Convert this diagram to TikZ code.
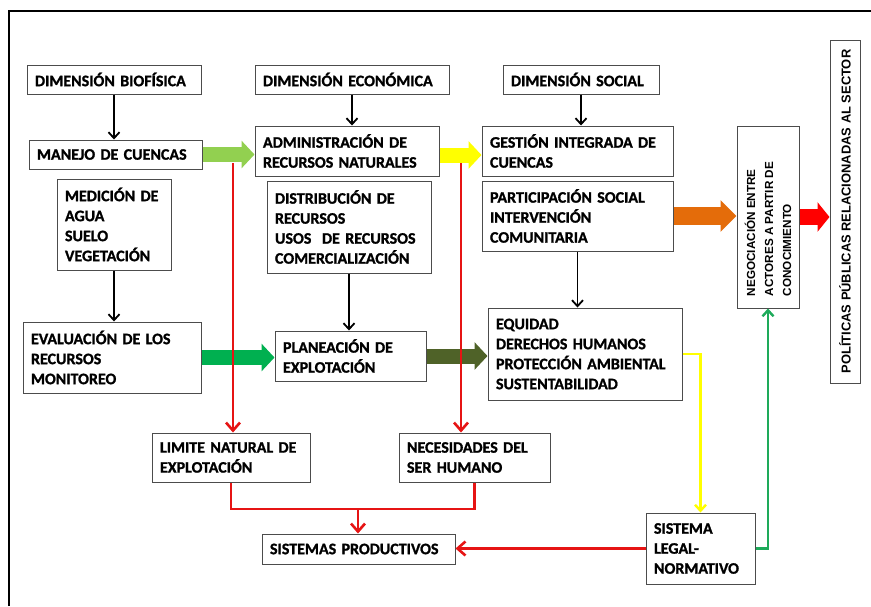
\documentclass[tikz,border=0pt]{standalone}
\usepackage{fontspec}
\setmainfont{Carlito}[BoldFont={Carlito Bold}, BoldFeatures={FakeBold=1.2}]
\newfontfamily\vertfont{Liberation Sans}[BoldFont={Liberation Sans Bold}]
\usepackage{tikz}
\usetikzlibrary{arrows.meta,calc}
\definecolor{lgreen}{RGB}{146,208,80}
\definecolor{mgreen}{RGB}{0,176,80}
\definecolor{olive}{RGB}{79,98,40}
\definecolor{yel}{RGB}{255,255,0}
\definecolor{orng}{RGB}{228,108,10}
\definecolor{rd}{RGB}{230,20,20}
\definecolor{lnk}{RGB}{30,170,90}
\newcommand\boxfont{\bfseries\fontsize{16}{20}\selectfont\spaceskip=3pt plus 1pt\relax}
\tikzset{
  box/.style  = {draw=black!70, line width=1pt, rectangle, align=left,
                 inner xsep=8pt, inner ysep=3pt},
  sig/.style  = {-{Straight Barb[length=6pt,width=11pt]}, line width=1.8pt},
  rsig/.style = {-{Straight Barb[length=8pt,width=14pt]}, line width=2.6pt, rd},
  fat/.style  = {line width=15pt, -{Triangle[length=13pt,width=27pt]}},
}

\begin{document}
\begin{tikzpicture}[x=1pt, y=-1pt, font=\boxfont]
\useasboundingbox (0,0) rectangle (871,606);
\draw[line width=2pt] (9,606) -- (9,11) -- (871,11);
% columns of dimensions
\node[box, text width=158pt, minimum height=29pt] (bf) at (114,79.5) {DIMENSIÓN BIOFÍSICA};
\node[box, text width=178pt, minimum height=29pt] (ec) at (352,79.5) {DIMENSIÓN ECONÓMICA};
\node[box, text width=140pt, minimum height=29pt] (so) at (581,79.5) {DIMENSIÓN SOCIAL};
\node[box, text width=157pt, minimum height=29pt] (mc) at (115.5,154.5) {MANEJO DE CUENCAS};
\node[box, text width=168pt, minimum height=50pt] (ar) at (347,151)
  {ADMINISTRACIÓN DE\\RECURSOS NATURALES};
\node[box, text width=175pt, minimum height=50pt] (gi) at (577.5,151)
  {GESTIÓN INTEGRADA DE\\CUENCAS};
\node[box, text width=98pt, minimum height=91pt] (md) at (114,224.5)
  {MEDICIÓN DE\\AGUA\\SUELO\\VEGETACIÓN};
\node[box, text width=148pt, minimum height=92pt] (dr) at (349,227)
  {DISTRIBUCIÓN DE\\RECURSOS\\USOS\ \ DE RECURSOS\\COMERCIALIZACIÓN};
\node[box, text width=175pt, minimum height=70pt] (ps) at (577.5,216)
  {PARTICIPACIÓN SOCIAL\\INTERVENCIÓN\\COMUNITARIA};
\node[box, text width=162pt, minimum height=71pt] (ev) at (112,357.5)
  {EVALUACIÓN DE LOS\\RECURSOS\\MONITOREO};
\node[box, text width=135pt, minimum height=50pt] (pe) at (350.5,356)
  {PLANEACIÓN DE\\EXPLOTACIÓN};
\node[box, text width=178pt, minimum height=92pt] (eq) at (585,354)
  {EQUIDAD\\DERECHOS HUMANOS\\PROTECCIÓN AMBIENTAL\\SUSTENTABILIDAD};
\node[box, text width=142pt, minimum height=49pt] (ln) at (231,457.5)
  {LIMITE NATURAL DE\\EXPLOTACIÓN};
\node[box, text width=135pt, minimum height=49pt] (nh) at (474.5,457.5)
  {NECESIDADES DEL\\SER HUMANO};
\node[box, text width=177pt, minimum height=30pt] (sp) at (358.5,549) {SISTEMAS PRODUCTIVOS};
\node[box, text width=93pt, minimum height=71pt] (sl) at (700.5,548.5)
  {SISTEMA\\LEGAL-\\NORMATIVO};
% vertical boxes
\node[box, inner sep=0pt, minimum width=62pt, minimum height=182pt,
  font=\vertfont\bfseries\fontsize{11.7}{18}\selectfont] (ng) at (768,217)
  {\rotatebox{90}{\parbox{158pt}{\raggedright NEGOCIACIÓN ENTRE\\ACTORES A PARTIR DE\\CONOCIMIENTO}}};
\node[box, inner sep=0pt, minimum width=30pt, minimum height=343pt,
  font=\vertfont\bfseries\fontsize{12.9}{16}\selectfont] (pp) at (845,211.5)
  {\rotatebox{90}{POLÍTICAS PÚBLICAS RELACIONADAS AL SECTOR}};
% black arrows
\draw[sig] (bf.south) -- (bf.south |- mc.north);
\draw[sig] (ec.south) -- (ec.south |- ar.north);
\draw[sig] (so.south) -- (so.south |- gi.north);
\draw[sig] (md.south) -- (md.south |- ev.north);
\draw[sig] (dr.south) -- (dr.south |- pe.north);
\draw[sig] (ps.south) -- (ps.south |- eq.north);
% block arrows
\draw[fat, lgreen] (mc.east) -- (mc.east -| ar.west);
\draw[fat, yel] ([yshift=-4pt]ar.east) -- ([yshift=-4pt]gi.west);
\draw[fat, mgreen] (ev.east) -- (ev.east -| pe.west);
\draw[fat, olive] (pe.east) -- (pe.east -| eq.west);
\draw[fat, orng, line width=18pt, -{Triangle[length=16pt,width=31pt]}] (ps.east) -- (ps.east -| ng.west);
\draw[fat, red, line width=16pt, -{Triangle[length=12pt,width=29pt]}] (ng.east) -- (ng.east -| pp.west);
% red lines
\coordinate (ra) at (233,163);
\coordinate (rb) at (461,163);
\coordinate (rj) at (358,509);
\draw[rsig] (ra) -- (ra |- ln.north);
\draw[rsig] (rb) -- (rb |- nh.north);
\draw[rd, line width=2.6pt] (ln.south) |- (rj) -| (nh.south);
\draw[rsig] (rj) -- (rj |- sp.north);
\draw[rsig] (sl.west) -- (sl.west -| sp.east);
% yellow and green returns
\draw[sig, yel, line width=2.4pt] (eq.east) -| (sl.north);
\draw[sig, lnk, line width=2.4pt] (sl.east) -| (ng.south);
\end{tikzpicture}
\end{document}
